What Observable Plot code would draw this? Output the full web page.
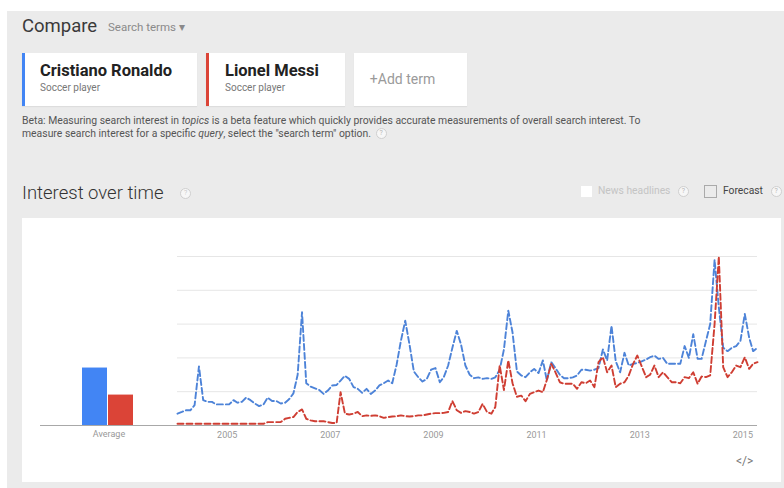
<!DOCTYPE html>
<html><head><meta charset="utf-8">
<script src="https://cdn.jsdelivr.net/npm/d3@7"></script>
<script src="https://cdn.jsdelivr.net/npm/@observablehq/plot@0.6"></script>
<style>
body{margin:0;width:784px;height:488px;overflow:hidden;background:#fff;font-family:Roboto,"Open Sans",sans-serif;position:relative}
#panel{position:absolute;left:7px;top:11px;width:777px;height:477px;background:#ebebeb}
.abs{position:absolute;white-space:nowrap}
.card{position:absolute;background:#fff;box-shadow:0 1px 1px rgba(0,0,0,0.06)}
.q{display:inline-block;width:9px;height:9px;border:1px solid #cfcfcf;border-radius:50%;font-size:7px;line-height:9px;text-align:center;color:#b5b5b5;background:#f7f7f7;vertical-align:middle}
#chartcard{position:absolute;left:22px;top:218px;width:759px;height:264px;background:#fff}
#bars{position:absolute;left:0;top:0}
#lines{position:absolute;left:155px;top:0}
</style></head>
<body>
<div id="panel"></div>
<div class="abs" style="left:22px;top:16.5px;font-size:18.5px;line-height:18.5px;color:#3a3a3a">Compare</div>
<div class="abs" style="left:108px;top:22px;font-size:11.5px;line-height:11.5px;color:#8a8a8a">Search terms &#9662;</div>

<div class="card" style="left:22px;top:53px;width:172px;height:53px;border-left:3px solid #4285f4"></div>
<div class="abs" style="left:40px;top:63px;font-size:16.5px;line-height:16.5px;font-weight:700;color:#222">Cristiano Ronaldo</div>
<div class="abs" style="left:40px;top:82.5px;font-size:10px;line-height:10px;color:#777">Soccer player</div>

<div class="card" style="left:206px;top:53px;width:136px;height:53px;border-left:3px solid #db4437"></div>
<div class="abs" style="left:225px;top:63px;font-size:16.5px;line-height:16.5px;font-weight:700;color:#222">Lionel Messi</div>
<div class="abs" style="left:225px;top:82.5px;font-size:10px;line-height:10px;color:#777">Soccer player</div>

<div class="card" style="left:354px;top:53px;width:113px;height:53px"></div>
<div class="abs" style="left:346px;width:113px;text-align:center;top:71.5px;font-size:14px;line-height:14px;color:#9a9a9a">+Add term</div>

<div class="abs" style="left:22px;top:115px;font-size:10.4px;line-height:12.5px;color:#555">Beta: Measuring search interest in <i>topics</i> is a beta feature which quickly provides accurate measurements of overall search interest. To<br>measure search interest for a specific <i>query</i>, select the "search term" option. <span class="q" style="margin-left:2px">?</span></div>

<div class="abs" style="left:22px;top:183.5px;font-size:18.5px;line-height:18.5px;font-weight:300;color:#333">Interest over time <span class="q" style="margin-left:12px">?</span></div>

<div class="abs" style="left:581px;top:186px;width:11px;height:11px;background:#fff"></div>
<div class="abs" style="left:598px;top:185.5px;font-size:10.3px;line-height:10.5px;color:#c4c4c4">News headlines <span class="q" style="margin-left:5px">?</span></div>
<div class="abs" style="left:704px;top:185px;width:11px;height:11px;border:1px solid #aaa"></div>
<div class="abs" style="left:723px;top:185.5px;font-size:10.3px;line-height:10.5px;color:#444">Forecast <span class="q" style="margin-left:5px">?</span></div>

<div id="chartcard">
  <div id="bars"></div>
  <div id="lines"></div>
  <div class="abs" style="left:714px;top:237px;font-size:12px;line-height:12px;color:#777">&lt;/&gt;</div>
</div>

<script>
// ---- data ----
const avgTerms = ["Cristiano Ronaldo", "Lionel Messi"];
const avgValues = [34, 18];
const avgLabel = "Average";

const ronaldo = [7,8,9,9,12,35,15,14,14,12.5,
 12.5,12.5,12.5,15,13.5,14,16.5,15,13,11.5,
 12.5,16.5,14.5,14.5,13,13.5,15.5,19,30,67,
 25,23,22,21,18.7,20.7,23.7,24,26.6,29.4,
 27.6,22.7,21.7,19.3,21.7,18.7,20.7,23.7,25,26.6,
 25,36,50,62,48,32,28.6,26,27.6,33,
 34,25.6,28.6,35.5,46,56,48,35.5,30,28,
 28.5,27.6,28,27.6,28.5,33,45,68,55,32,
 29.6,28.6,31.5,33.5,31,38.5,26.6,37.5,34,30,
 28,28,28.5,29.6,33,33,32.5,33,34,45,
 38.5,59,38,31.5,43,35.5,36.5,37,38,39,
 40.4,41.4,39.4,40,36.5,36.5,36.5,36.5,47,40,
 54,39.4,39.4,50,60,98,70,46,44,46,
 47,50,66,52,44,46];

const messi = [1,1,1,1,1,1,1,1,1,1,
 1,1,1,1,1,1,1,1,1,1,
 1,2,2,2,2,4,4.5,5,8,9.5,
 4,3,2.5,2.5,2.5,2,1.5,1.5,19.7,7,
 6.5,7,8,5.5,6,5.7,6,5.5,4.5,5,
 5.3,5.5,6,5.5,5.3,5.5,6,6,6.5,7,
 7.3,7.3,7.5,8,14.5,9,7.5,8.5,8,7,
 8,12.8,8,7,11,35.5,21,38.5,25,17,
 17.7,14.4,18.7,19.7,20.7,19.7,27,36.5,31.5,25.6,
 24.7,24.7,24.7,21.7,25.6,25,26.6,22.7,37.5,40.4,
 31.5,35.5,22.7,24.7,25.6,29.6,36.5,41.4,35,28.6,
 30,35.5,28.6,31.5,28.6,25.6,25.6,25,28.6,28,
 31.5,24.7,29,28.6,29.6,60,100,34.5,28.6,31.5,
 35.5,34.5,40.4,33.5,36.5,37.5];

const startYear = 2004;
const tickYears = [2005, 2007, 2009, 2011, 2013, 2015];
const tickLabels = ["2005", "2007", "2009", "2011", "2013", "2015"];
const gridValues = [20, 40, 60, 80, 100];

// ---- styles ----
const blue = "#4285f4", red = "#db4437";
const lineBlue = "#4d83d8", lineRed = "#cf3e33";

const monthDate = i => new Date(startYear, i, 15);
const rows = [];
ronaldo.forEach((v, i) => rows.push({date: monthDate(i), value: v, term: avgTerms[0]}));
messi.forEach((v, i) => rows.push({date: monthDate(i), value: v, term: avgTerms[1]}));
const avgRows = avgTerms.map((t, i) => ({term: t, value: avgValues[i]}));
const labelByYear = new Map(tickYears.map((y, i) => [y, tickLabels[i]]));

const H = 264, MT = 38, MB = 57;

const bars = Plot.plot({
  width: 155, height: H,
  marginLeft: 18, marginRight: 0, marginTop: MT, marginBottom: MB,
  style: {background: "transparent", fontFamily: "Roboto, sans-serif", overflow: "visible"},
  x: {type: "band", domain: avgTerms, range: [59, 112], paddingInner: 0.03, paddingOuter: 0, axis: null},
  y: {domain: [0, 100], axis: null},
  color: {domain: avgTerms, range: [blue, red]},
  marks: [
    Plot.barY(avgRows, {x: "term", y: "value", fill: "term"}),
    Plot.ruleY([0], {stroke: "#a8a8a8"}),
    Plot.text([avgLabel], {frameAnchor: "bottom", dy: 11, fontSize: 9, fill: "#999"})
  ]
});
document.getElementById("bars").append(bars);

const lines = Plot.plot({
  width: 604, height: H,
  marginLeft: 0, marginRight: 24, marginTop: MT, marginBottom: MB,
  style: {background: "transparent", fontFamily: "Roboto, sans-serif", overflow: "visible"},
  x: {type: "time", domain: [monthDate(0), monthDate(ronaldo.length - 1)], axis: null},
  y: {domain: [0, 100], axis: null},
  marks: [
    Plot.ruleY(gridValues, {stroke: "#e6e6e6"}),
    Plot.ruleY([0], {stroke: "#a8a8a8"}),
    Plot.line(rows.filter(d => d.term === avgTerms[0]), {x: "date", y: "value", stroke: lineBlue, strokeWidth: 1.9, strokeDasharray: "6,3"}),
    Plot.line(rows.filter(d => d.term === avgTerms[1]), {x: "date", y: "value", stroke: lineRed, strokeWidth: 1.9, strokeDasharray: "6,3"}),
    Plot.axisX(tickYears.map(y => new Date(y, 0, 1)), {
      tickSize: 0, tickPadding: 6, fontSize: 9, fill: "#999",
      tickFormat: d => labelByYear.get(d.getFullYear())
    })
  ]
});
document.getElementById("lines").append(lines);
</script>
</body></html>
